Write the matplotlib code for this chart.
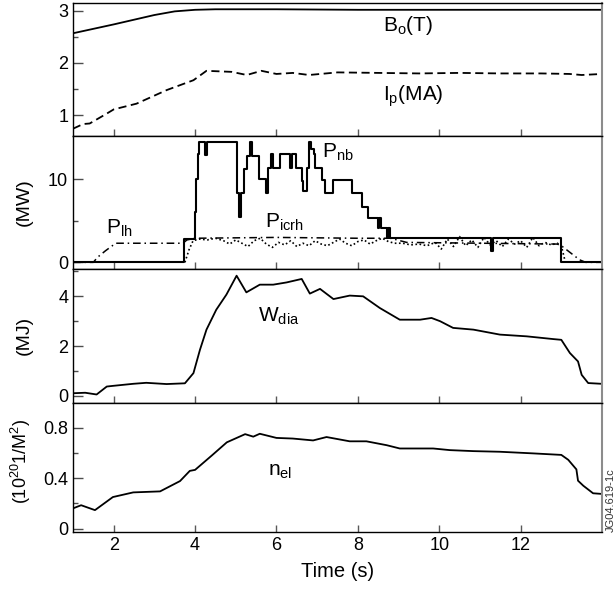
import numpy as np
import matplotlib.pyplot as plt

plt.rcParams['font.family'] = ['Liberation Sans', 'DejaVu Sans']

# --- datos ---
# campo toroidal y corriente de plasma
b0_t = [1.0, 2.0, 3.0, 3.5, 4.0, 4.5, 6.0, 8.0, 11.0, 14.0]
b0_v = [2.57, 2.74, 2.92, 2.99, 3.02, 3.03, 3.03, 3.02, 3.02, 3.02]

ip_t = [1.0, 1.25, 1.41, 1.83, 2.0, 2.56, 3.3, 3.96, 4.28, 4.9, 5.27, 5.63, 6.0,
        6.4, 6.8, 7.5, 8.5, 9.5, 10.5, 11.5, 12.5, 13.2, 13.5, 14.0]
ip_v = [0.74, 0.83, 0.84, 1.03, 1.11, 1.22, 1.48, 1.67, 1.85, 1.83, 1.77, 1.85, 1.79,
        1.81, 1.77, 1.82, 1.81, 1.80, 1.81, 1.80, 1.80, 1.79, 1.77, 1.79]

# potencia de haces neutros (escalones)
pnb_t = [1.0, 3.73, 4.0, 4.03, 4.07, 4.1, 4.13, 4.25, 4.29, 5.04, 5.08, 5.14, 5.19,
         5.27, 5.35, 5.39, 5.57, 5.75, 5.8, 5.86, 5.92, 6.09, 6.33, 6.37, 6.48,
         6.62, 6.66, 6.74, 6.81, 6.86, 6.92, 6.95, 7.11, 7.19, 7.40, 7.85, 8.09,
         8.26, 8.50, 8.53, 8.56, 8.71, 8.74, 8.79, 11.27, 11.31, 13.0, 14.0]
pnb_v = [0.0, 2.8, 6.0, 10.0, 13.0, 14.5, 14.5, 12.9, 14.5, 8.4, 5.4, 8.4, 11.2,
         12.8, 14.5, 12.8, 10.0, 8.4, 11.4, 13.0, 11.4, 13.0, 11.4, 13.0, 11.4,
         9.8, 8.6, 11.4, 14.5, 13.6, 13.0, 11.3, 9.9, 8.3, 9.9, 8.3, 6.7,
         5.3, 4.1, 5.3, 4.1, 2.9, 4.1, 2.9, 1.4, 2.9, 0.0, 0.0]

# potencia LH
plh_t = [1.0, 1.5, 1.6, 1.8, 2.05, 3.7, 3.8, 4.0, 6.0, 8.0, 8.8, 9.2, 12.9, 13.0,
         13.45, 13.6, 14.0]
plh_v = [0.0, 0.0, 0.6, 1.4, 2.3, 2.3, 2.7, 2.9, 3.0, 2.9, 2.9, 2.4, 2.2, 2.0,
         0.3, 0.0, 0.0]

# potencia ICRH
picrh_t = [3.75, 3.85, 3.95, 4.1, 4.3, 4.5, 4.7, 4.85, 5.0, 5.15, 5.3, 5.45, 5.6,
           5.75, 5.9, 6.05, 6.2, 6.35, 6.5, 6.65, 6.8, 6.95, 7.1, 7.25, 7.4, 7.55,
           7.7, 7.85, 8.0, 8.15, 8.3, 8.45, 8.6, 8.75, 8.9, 9.1, 9.3, 9.5, 9.7,
           9.9, 10.05, 10.2, 10.35, 10.5, 10.65, 10.8, 10.95, 11.1, 11.25, 11.4,
           11.55, 11.7, 11.85, 12.0, 12.15, 12.3, 12.45, 12.6, 12.75, 12.9, 13.0,
           13.1]
picrh_v = [0.0, 1.5, 2.6, 2.8, 2.7, 2.9, 2.6, 2.2, 2.7, 2.3, 1.9, 2.6, 2.9,
           2.2, 1.8, 2.4, 2.1, 2.6, 1.9, 2.3, 2.0, 2.6, 2.2, 2.0, 2.4, 2.8,
           2.3, 2.0, 2.5, 2.7, 2.2, 2.6, 2.9, 2.5, 2.3, 2.3, 2.1, 2.2, 2.0,
           2.4, 1.6, 2.8, 1.9, 3.1, 2.0, 2.7, 1.8, 3.0, 2.1, 2.6,
           1.9, 2.8, 2.2, 2.6, 1.8, 3.0, 2.0, 2.4, 2.1, 2.3, 2.0,
           0.0]

# energia diamagnetica
wdia_t = [1.0, 1.3, 1.58, 1.83, 2.0, 2.48, 2.8, 3.3, 3.75, 3.96, 4.12, 4.28, 4.52,
          4.77, 5.02, 5.26, 5.59, 5.92, 6.25, 6.62, 6.82, 7.07, 7.40, 7.80, 8.13,
          8.54, 9.03, 9.53, 9.81, 10.02, 10.34, 10.84, 11.49, 12.15, 12.8, 13.0,
          13.21, 13.41, 13.5, 13.66, 13.99]
wdia_v = [0.10, 0.12, 0.05, 0.37, 0.40, 0.48, 0.52, 0.47, 0.50, 0.91, 1.85, 2.66, 3.46,
          4.07, 4.83, 4.16, 4.47, 4.47, 4.56, 4.70, 4.11, 4.30, 3.89, 4.03, 4.00,
          3.53, 3.06, 3.06, 3.13, 3.00, 2.73, 2.66, 2.46, 2.39, 2.28, 2.25,
          1.72, 1.38, 0.84, 0.51, 0.48]

# densidad lineal
nel_t = [1.0, 1.2, 1.54, 1.98, 2.48, 3.14, 3.63, 3.87, 4.0, 4.41, 4.78, 5.23, 5.43,
         5.59, 6.0, 6.4, 6.9, 7.23, 7.8, 8.21, 8.71, 9.03, 9.85, 10.26, 10.84,
         11.49, 12.31, 13.0, 13.17, 13.37, 13.41, 13.54, 13.78, 13.99]
nel_v = [0.16, 0.185, 0.146, 0.25, 0.287, 0.295, 0.377, 0.458, 0.466, 0.58, 0.685,
         0.75, 0.73, 0.753, 0.72, 0.715, 0.70, 0.727, 0.693, 0.693, 0.662, 0.636,
         0.636, 0.623, 0.615, 0.61, 0.597, 0.585, 0.546, 0.47, 0.38, 0.34, 0.28,
         0.275]

fig = plt.figure(figsize=(6.15, 5.93), dpi=100)
gs = fig.add_gridspec(4, 1, left=0.1187, right=0.9789, top=0.9949, bottom=0.1024,
                      hspace=0, height_ratios=[133, 133, 133.7, 129.6])
axes = [fig.add_subplot(gs[i]) for i in range(4)]

lw = 1.3
ax1, ax2, ax3, ax4 = axes
fs_txt = 15

# panel 1: B0 e Ip
ax1.plot(b0_t, b0_v, color='black', lw=lw)
ax1.plot(ip_t, ip_v, color='black', lw=lw, dashes=(4.5, 2.5))
ax1.set_ylim(0.6, 3.15)
ax1.set_yticks([1, 2, 3], ['1', '2', '3'])
ax1.set_yticks([1.5, 2.5], minor=True)
ax1.text(8.62, 2.72, r'$\mathregular{B_o(T)}$', fontsize=fs_txt, va='center')
ax1.text(8.62, 1.36, r'$\mathregular{I_p(MA)}$', fontsize=fs_txt, va='center')

# panel 2: potencias
ax2.step(pnb_t, pnb_v, where='post', color='black', lw=1.5)
ax2.plot(plh_t, plh_v, color='black', lw=1.1, dashes=(5, 2.5, 1, 2.5))
ax2.plot(picrh_t, picrh_v, color='black', lw=1.2, dashes=(1, 1.5))
ax2.set_ylim(-0.8, 15.2)
ax2.set_yticks([0, 10], ['0', '10'])
ax2.set_yticks([5], minor=True)
ax2.text(7.12, 13.2, r'$\mathregular{P_{nb}}$', fontsize=fs_txt, va='center')
ax2.text(1.82, 4.15, r'$\mathregular{P_{lh}}$', fontsize=fs_txt, va='center')
ax2.text(5.72, 4.87, r'$\mathregular{P_{icrh}}$', fontsize=fs_txt, va='center')

# panel 3: Wdia
ax3.plot(wdia_t, wdia_v, color='black', lw=lw)
ax3.set_ylim(-0.28, 5.1)
ax3.set_yticks([0, 2, 4], ['0', '2', '4'])
ax3.set_yticks([1, 3, 5], minor=True)
ax3.text(5.55, 3.18, r'$\mathregular{W_{dia}}$', fontsize=fs_txt, va='center')

# panel 4: nel
ax4.plot(nel_t, nel_v, color='black', lw=lw)
ax4.set_ylim(-0.03, 1.0)
ax4.set_yticks([0, 0.4, 0.8], ['0', '0.4', '0.8'])
ax4.set_yticks([0.2, 0.6], minor=True)
ax4.text(5.79, 0.456, r'$\mathregular{n_{el}}$', fontsize=fs_txt, va='center')

for ax in axes:
    ax.set_xlim(1, 14)
    ax.set_xticks([2, 4, 6, 8, 10, 12])
    ax.set_xticks([], minor=True)
    ax.tick_params(axis='x', direction='in', length=5, width=1, color='0.35',
                   labelsize=13, top=False)
    ax.tick_params(axis='y', which='major', direction='in', length=7, width=1,
                   color='0.3', labelsize=13, right=False)
    ax.tick_params(axis='y', which='minor', direction='in', length=3.5, width=1,
                   color='0.3', right=False)
    for s in ['left', 'top', 'bottom']:
        ax.spines[s].set_linewidth(1.0)
    ax.spines['right'].set_color('0.55')
    ax.spines['right'].set_linewidth(1.5)

for ax in axes[:3]:
    ax.tick_params(axis='x', labelbottom=False)

ax4.set_xlabel('Time (s)', fontsize=14.5, labelpad=6)

ylabel_x = -0.076
ax2.set_ylabel('(MW)', fontsize=14)
ax3.set_ylabel('(MJ)', fontsize=14)
ax4.set_ylabel(r'$\mathregular{(10^{20}1/M^2)}$', fontsize=13)
for ax in [ax2, ax3, ax4]:
    ax.yaxis.set_label_coords(ylabel_x, 0.5)
ax4.yaxis.set_label_coords(ylabel_x, 0.55)

fig.text(0.9935, 0.103, 'JG04.619-1c', rotation=90, fontsize=8, ha='center',
         va='bottom', color='0.2')

plt.savefig('out.png', dpi=100)
plt.close()
